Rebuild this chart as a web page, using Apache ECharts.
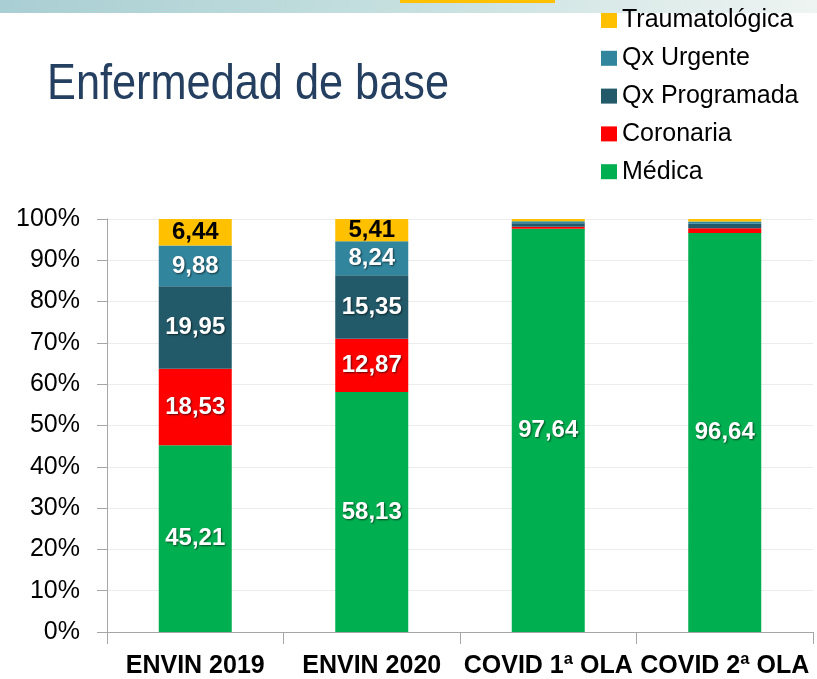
<!DOCTYPE html>
<html>
<head>
<meta charset="utf-8">
<script src="https://cdn.jsdelivr.net/npm/echarts@6/dist/echarts.min.js"></script>
<style>
html, body { margin: 0; padding: 0; background: #fff; }
#chart { width: 817px; height: 679px; }
</style>
</head>
<body>
<div id="chart"></div>
<script>
var categories = ['ENVIN 2019', 'ENVIN 2020', 'COVID 1ª OLA', 'COVID 2ª OLA'];
var legendOrder = ['Traumatológica', 'Qx Urgente', 'Qx Programada', 'Coronaria', 'Médica'];

// de abajo hacia arriba en la pila
var medica = [45.21, 58.13, 97.64, 96.64];
var coronaria = [18.53, 12.87, 0.51, 1.10];
var qxProgramada = [19.95, 15.35, 0.80, 1.10];
var qxUrgente = [9.88, 8.24, 0.50, 0.56];
var trauma = [6.44, 5.41, 0.55, 0.60];

var yTicks = [0, 10, 20, 30, 40, 50, 60, 70, 80, 90, 100];

var chart = echarts.init(document.getElementById('chart'));

var fmt = function(p) {
    if (p.value < 3) return '';
    return p.value.toFixed(2).replace('.', ',');
};

var mkSeries = function(name, data, color, txt) {
    return {
        name: name,
        type: 'bar',
        stack: 'total',
        barWidth: 73,
        data: data,
        itemStyle: { color: color },
        label: {
            show: true,
            position: 'inside',
            formatter: fmt,
            color: txt,
            fontSize: 24,
            fontWeight: 'bold',
            fontFamily: 'Liberation Sans, Arial',
            textShadowColor: txt == '#fff' ? 'rgba(0,0,0,0.6)' : 'transparent',
            textShadowBlur: 2,
            textShadowOffsetX: 1,
            textShadowOffsetY: 1
        }
    };
};

var option = {
    backgroundColor: '#fff',
    animation: false,
    graphic: [
        {
            type: 'rect',
            shape: { x: 0, y: 0, width: 817, height: 13 },
            style: {
                fill: {
                    type: 'linear', x: 0, y: 0, x2: 1, y2: 0,
                    colorStops: [
                        { offset: 0, color: '#a9ced3' },
                        { offset: 0.5, color: '#c6e0df' },
                        { offset: 1, color: '#eef4f2' }
                    ]
                }
            },
            silent: true
        },
        {
            type: 'rect',
            shape: { x: 400, y: 0, width: 155, height: 3 },
            style: { fill: '#FFC000' },
            silent: true
        },
        // titulo, algo estrecho como en la diapositiva
        {
            type: 'text',
            x: 47,
            y: 60,
            scaleX: 0.866,
            style: {
                text: 'Enfermedad de base',
                fill: '#243F60',
                font: '50px "Liberation Sans", Arial',
                textVerticalAlign: 'top'
            },
            silent: true
        }
    ],
    legend: {
        data: legendOrder,
        orient: 'vertical',
        left: 596,
        top: 3,
        itemWidth: 16,
        itemHeight: 15,
        itemGap: 12.8,
        icon: 'rect',
        textStyle: {
            color: '#000',
            fontSize: 25,
            lineHeight: 25,
            fontFamily: 'Liberation Sans, Arial'
        }
    },
    grid: { left: 107, right: 4, top: 219, bottom: 46 },
    xAxis: {
        type: 'category',
        data: categories,
        axisLine: { lineStyle: { color: '#a6a6a6', width: 1 } },
        axisTick: { show: true, length: 12, lineStyle: { color: '#a6a6a6' } },
        axisLabel: {
            interval: 0,
            margin: 22,
            color: '#000',
            fontSize: 25,
            fontWeight: 'bold',
            fontFamily: 'Liberation Sans, Arial'
        }
    },
    yAxis: {
        type: 'value',
        min: yTicks[0],
        max: yTicks[yTicks.length - 1],
        interval: 10,
        axisLine: { show: true, lineStyle: { color: '#a6a6a6' } },
        axisTick: { show: true, length: 10, lineStyle: { color: '#a6a6a6' } },
        splitLine: { lineStyle: { color: '#ececec' } },
        axisLabel: {
            formatter: '{value}%',
            margin: 27,
            color: '#000',
            fontSize: 25,
            fontFamily: 'Liberation Sans, Arial'
        }
    },
    series: [
        mkSeries('Médica', medica, '#00B050', '#fff'),
        mkSeries('Coronaria', coronaria, '#FF0000', '#fff'),
        mkSeries('Qx Programada', qxProgramada, '#225A69', '#fff'),
        mkSeries('Qx Urgente', qxUrgente, '#31869E', '#fff'),
        mkSeries('Traumatológica', trauma, '#FFC000', '#000')
    ]
};

chart.setOption(option);
</script>
</body>
</html>
